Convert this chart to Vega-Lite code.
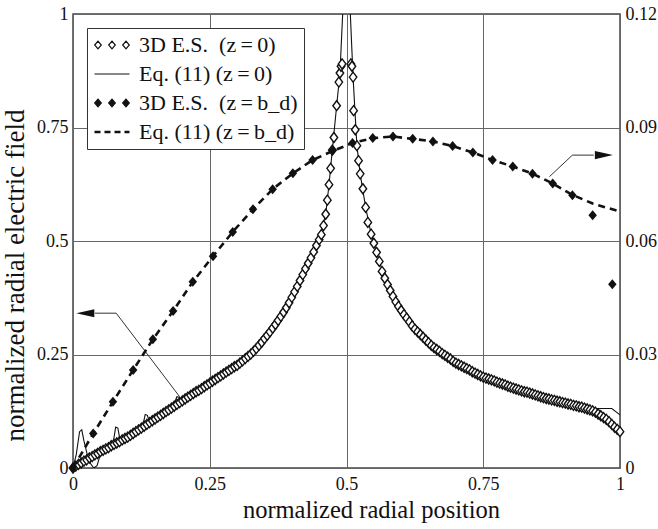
{
  "$schema": "https://vega.github.io/schema/vega-lite/v6.json",
  "width": 547,
  "height": 454,
  "autosize": {"type": "none"},
  "padding": {"left": 73, "top": 14, "right": 38, "bottom": 61},
  "background": "white",
  "datasets": {
    "es_z0": [
      {"x":0,"y":0},{"x":0.005,"y":0.004},{"x":0.01,"y":0.008},{"x":0.015,"y":0.011},{"x":0.02,"y":0.015},
      {"x":0.025,"y":0.018},{"x":0.03,"y":0.022},{"x":0.035,"y":0.025},{"x":0.04,"y":0.029},{"x":0.045,"y":0.032},
      {"x":0.05,"y":0.036},{"x":0.055,"y":0.039},{"x":0.06,"y":0.042},{"x":0.065,"y":0.045},{"x":0.07,"y":0.049},
      {"x":0.075,"y":0.052},{"x":0.08,"y":0.055},{"x":0.085,"y":0.058},{"x":0.09,"y":0.062},{"x":0.095,"y":0.065},
      {"x":0.1,"y":0.068},{"x":0.105,"y":0.072},{"x":0.11,"y":0.076},{"x":0.115,"y":0.08},{"x":0.12,"y":0.084},
      {"x":0.125,"y":0.088},{"x":0.13,"y":0.092},{"x":0.135,"y":0.096},{"x":0.14,"y":0.1},{"x":0.145,"y":0.104},
      {"x":0.15,"y":0.108},{"x":0.155,"y":0.112},{"x":0.16,"y":0.116},{"x":0.165,"y":0.12},{"x":0.17,"y":0.124},
      {"x":0.175,"y":0.128},{"x":0.18,"y":0.132},{"x":0.185,"y":0.136},{"x":0.19,"y":0.14},{"x":0.195,"y":0.144},
      {"x":0.2,"y":0.148},{"x":0.205,"y":0.152},{"x":0.21,"y":0.156},{"x":0.215,"y":0.16},{"x":0.22,"y":0.164},
      {"x":0.225,"y":0.168},{"x":0.23,"y":0.171},{"x":0.235,"y":0.175},{"x":0.24,"y":0.179},{"x":0.245,"y":0.183},
      {"x":0.25,"y":0.187},{"x":0.255,"y":0.191},{"x":0.26,"y":0.195},{"x":0.265,"y":0.199},{"x":0.27,"y":0.203},
      {"x":0.275,"y":0.207},{"x":0.28,"y":0.211},{"x":0.285,"y":0.215},{"x":0.29,"y":0.219},{"x":0.295,"y":0.223},
      {"x":0.3,"y":0.226},{"x":0.305,"y":0.231},{"x":0.31,"y":0.236},{"x":0.315,"y":0.241},{"x":0.32,"y":0.246},
      {"x":0.325,"y":0.251},{"x":0.33,"y":0.257},{"x":0.335,"y":0.263},{"x":0.34,"y":0.27},{"x":0.345,"y":0.277},
      {"x":0.35,"y":0.285},{"x":0.355,"y":0.292},{"x":0.36,"y":0.3},{"x":0.365,"y":0.308},{"x":0.37,"y":0.316},
      {"x":0.375,"y":0.325},{"x":0.38,"y":0.334},{"x":0.385,"y":0.343},{"x":0.39,"y":0.353},{"x":0.395,"y":0.364},
      {"x":0.4,"y":0.376},{"x":0.405,"y":0.388},{"x":0.41,"y":0.4},{"x":0.415,"y":0.413},{"x":0.42,"y":0.426},
      {"x":0.425,"y":0.439},{"x":0.43,"y":0.451},{"x":0.435,"y":0.463},{"x":0.44,"y":0.476},{"x":0.445,"y":0.49},
      {"x":0.45,"y":0.503},{"x":0.454,"y":0.514},{"x":0.458,"y":0.534},{"x":0.462,"y":0.559},{"x":0.465,"y":0.59},
      {"x":0.468,"y":0.624},{"x":0.471,"y":0.66},{"x":0.474,"y":0.7},{"x":0.477,"y":0.728},{"x":0.482,"y":0.798},
      {"x":0.486,"y":0.85},{"x":0.488,"y":0.87},{"x":0.49,"y":0.885},{"x":0.492,"y":0.89},
      {"x":0.508,"y":0.89},{"x":0.51,"y":0.885},{"x":0.512,"y":0.861},{"x":0.513,"y":0.787},{"x":0.516,"y":0.745},
      {"x":0.519,"y":0.71},{"x":0.522,"y":0.677},{"x":0.525,"y":0.648},{"x":0.53,"y":0.615},{"x":0.535,"y":0.574},
      {"x":0.539,"y":0.541},{"x":0.545,"y":0.515},{"x":0.55,"y":0.495},{"x":0.555,"y":0.475},{"x":0.56,"y":0.455},
      {"x":0.565,"y":0.433},{"x":0.57,"y":0.418},{"x":0.575,"y":0.404},{"x":0.58,"y":0.391},{"x":0.585,"y":0.378},
      {"x":0.59,"y":0.366},{"x":0.595,"y":0.356},{"x":0.6,"y":0.347},{"x":0.605,"y":0.338},{"x":0.61,"y":0.33},
      {"x":0.615,"y":0.322},{"x":0.62,"y":0.313},{"x":0.625,"y":0.306},{"x":0.63,"y":0.3},{"x":0.635,"y":0.294},
      {"x":0.64,"y":0.288},{"x":0.645,"y":0.282},{"x":0.65,"y":0.276},{"x":0.655,"y":0.27},{"x":0.66,"y":0.265},
      {"x":0.665,"y":0.261},{"x":0.67,"y":0.257},{"x":0.675,"y":0.252},{"x":0.68,"y":0.248},{"x":0.685,"y":0.244},
      {"x":0.69,"y":0.24},{"x":0.695,"y":0.235},{"x":0.7,"y":0.231},{"x":0.705,"y":0.228},{"x":0.71,"y":0.225},
      {"x":0.715,"y":0.222},{"x":0.72,"y":0.219},{"x":0.725,"y":0.216},{"x":0.73,"y":0.212},{"x":0.735,"y":0.209},
      {"x":0.74,"y":0.206},{"x":0.745,"y":0.203},{"x":0.75,"y":0.2},{"x":0.755,"y":0.198},{"x":0.76,"y":0.196},
      {"x":0.765,"y":0.194},{"x":0.77,"y":0.192},{"x":0.775,"y":0.189},{"x":0.78,"y":0.187},{"x":0.785,"y":0.185},
      {"x":0.79,"y":0.183},{"x":0.795,"y":0.18},{"x":0.8,"y":0.178},{"x":0.805,"y":0.176},{"x":0.81,"y":0.174},
      {"x":0.815,"y":0.172},{"x":0.82,"y":0.17},{"x":0.825,"y":0.168},{"x":0.83,"y":0.167},{"x":0.835,"y":0.165},
      {"x":0.84,"y":0.163},{"x":0.845,"y":0.161},{"x":0.85,"y":0.159},{"x":0.855,"y":0.157},{"x":0.86,"y":0.155},
      {"x":0.865,"y":0.153},{"x":0.87,"y":0.152},{"x":0.875,"y":0.15},{"x":0.88,"y":0.149},{"x":0.885,"y":0.147},
      {"x":0.89,"y":0.146},{"x":0.895,"y":0.144},{"x":0.9,"y":0.143},{"x":0.905,"y":0.141},{"x":0.91,"y":0.14},
      {"x":0.915,"y":0.138},{"x":0.92,"y":0.137},{"x":0.925,"y":0.135},{"x":0.93,"y":0.134},{"x":0.935,"y":0.132},
      {"x":0.94,"y":0.13},{"x":0.945,"y":0.128},{"x":0.95,"y":0.126},{"x":0.955,"y":0.123},{"x":0.96,"y":0.119},
      {"x":0.965,"y":0.115},{"x":0.97,"y":0.111},{"x":0.975,"y":0.107},{"x":0.98,"y":0.102},{"x":0.985,"y":0.096},
      {"x":0.99,"y":0.09},{"x":0.995,"y":0.085},{"x":1,"y":0.08}
    ],
    "eq_z0": [
      {"x":0,"y":0},{"x":0.006,"y":0.03},{"x":0.012,"y":0.08},{"x":0.016,"y":0.084},{"x":0.02,"y":0.06},
      {"x":0.026,"y":0.03},{"x":0.032,"y":0.01},{"x":0.038,"y":0},{"x":0.044,"y":0.005},{"x":0.05,"y":0.03},
      {"x":0.056,"y":0.04},{"x":0.07,"y":0.049},{"x":0.074,"y":0.06},{"x":0.078,"y":0.09},{"x":0.082,"y":0.088},
      {"x":0.086,"y":0.062},{"x":0.092,"y":0.063},{"x":0.12,"y":0.084},{"x":0.128,"y":0.095},{"x":0.132,"y":0.118},
      {"x":0.136,"y":0.116},{"x":0.14,"y":0.1},{"x":0.18,"y":0.132},{"x":0.186,"y":0.145},{"x":0.19,"y":0.157},
      {"x":0.194,"y":0.156},{"x":0.198,"y":0.147},{"x":0.25,"y":0.187},{"x":0.3,"y":0.226},{"x":0.35,"y":0.285},
      {"x":0.4,"y":0.376},{"x":0.43,"y":0.451},{"x":0.45,"y":0.503},{"x":0.462,"y":0.559},{"x":0.468,"y":0.624},
      {"x":0.474,"y":0.7},{"x":0.482,"y":0.798},{"x":0.488,"y":0.87},{"x":0.493,"y":1.0},{"x":0.497,"y":1.6},
      {"x":0.503,"y":1.6},{"x":0.507,"y":1.0},{"x":0.512,"y":0.861},{"x":0.519,"y":0.71},{"x":0.525,"y":0.648},
      {"x":0.535,"y":0.574},{"x":0.545,"y":0.515},{"x":0.55,"y":0.495},{"x":0.56,"y":0.455},{"x":0.57,"y":0.418},
      {"x":0.58,"y":0.391},{"x":0.6,"y":0.347},{"x":0.62,"y":0.313},{"x":0.65,"y":0.276},{"x":0.7,"y":0.231},
      {"x":0.75,"y":0.2},{"x":0.8,"y":0.178},{"x":0.85,"y":0.159},{"x":0.9,"y":0.143},{"x":0.93,"y":0.134},
      {"x":0.955,"y":0.131},{"x":0.985,"y":0.131},{"x":1,"y":0.117}
    ],
    "es_bd": [
      {"x":0,"y":0},{"x":0.037,"y":0.0091},{"x":0.073,"y":0.0175},{"x":0.11,"y":0.0259},{"x":0.146,"y":0.034},
      {"x":0.183,"y":0.0415},{"x":0.219,"y":0.0492},{"x":0.256,"y":0.056},{"x":0.292,"y":0.0624},{"x":0.329,"y":0.0684},
      {"x":0.365,"y":0.0737},{"x":0.402,"y":0.0779},{"x":0.438,"y":0.0814},{"x":0.475,"y":0.084},{"x":0.511,"y":0.0859},
      {"x":0.548,"y":0.0872},{"x":0.585,"y":0.0876},{"x":0.621,"y":0.087},{"x":0.658,"y":0.0863},{"x":0.694,"y":0.0851},
      {"x":0.731,"y":0.0834},{"x":0.767,"y":0.0814},{"x":0.804,"y":0.0797},{"x":0.84,"y":0.0778},{"x":0.877,"y":0.0752},
      {"x":0.913,"y":0.0721},{"x":0.95,"y":0.0668},{"x":0.986,"y":0.0486}
    ],
    "eq_bd": [
      {"x":0,"y":0},{"x":0.037,"y":0.0091},{"x":0.073,"y":0.0175},{"x":0.11,"y":0.0259},{"x":0.146,"y":0.034},
      {"x":0.183,"y":0.0415},{"x":0.219,"y":0.0492},{"x":0.256,"y":0.056},{"x":0.292,"y":0.0624},{"x":0.329,"y":0.0684},
      {"x":0.365,"y":0.0737},{"x":0.402,"y":0.0779},{"x":0.438,"y":0.0814},{"x":0.475,"y":0.0838},{"x":0.511,"y":0.0859},
      {"x":0.548,"y":0.0872},{"x":0.585,"y":0.0876},{"x":0.621,"y":0.087},{"x":0.658,"y":0.0863},{"x":0.694,"y":0.0851},
      {"x":0.731,"y":0.0834},{"x":0.767,"y":0.0814},{"x":0.804,"y":0.0797},{"x":0.84,"y":0.0778},{"x":0.877,"y":0.0752},
      {"x":0.913,"y":0.0722},{"x":0.95,"y":0.0699},{"x":1,"y":0.0678}
    ],
    "pointer_left": [{"x":0.04,"y":0.341},{"x":0.079,"y":0.341},{"x":0.195,"y":0.157}],
    "pointer_left_tip": [{"x":0.006,"y":0.341}],
    "pointer_right": [{"x":0.871,"y":0.077},{"x":0.913,"y":0.0827},{"x":0.952,"y":0.0827}],
    "pointer_right_tip": [{"x":0.987,"y":0.0827}]
  },
  "encoding": {
    "x": {
      "field": "x",
      "type": "quantitative",
      "scale": {"domain": [0, 1], "nice": false, "zero": false},
      "axis": {
        "values": [0, 0.25, 0.5, 0.75, 1],
        "labelExpr": "format(datum.value, '.2~f')",
        "title": "normalized radial position",
        "labelFontSize": 18,
        "titleFontSize": 24.5,
        "labelPadding": 7,
        "titlePadding": 5,
        "titleX": 298,
        "labelFlush": false,
        "grid": true
      }
    }
  },
  "layer": [
    {
      "encoding": {
        "y": {
          "field": "y",
          "type": "quantitative",
          "scale": {"domain": [0, 1], "nice": false},
          "axis": {
            "values": [0, 0.25, 0.5, 0.75, 1],
            "labelExpr": "format(datum.value, '.2~f')",
            "title": "normalized radial electric field",
            "labelFontSize": 18,
            "titleFontSize": 27,
            "labelPadding": 5,
            "titlePadding": 7,
            "titleY": 261,
            "grid": true
          }
        }
      },
      "layer": [
        {
          "data": {"name": "eq_z0"},
          "mark": {"type": "line", "strokeWidth": 1.1, "clip": true, "interpolate": "linear"},
          "encoding": {
            "color": {
              "datum": "Eq. (11) (z\u2009=\u20090)",
              "scale": {
                "domain": ["3D E.S.\u00a0\u00a0(z\u2009=\u20090)", "Eq. (11) (z\u2009=\u20090)", "3D E.S.\u00a0\u00a0(z\u2009=\u2009b_d)", "Eq. (11) (z\u2009=\u2009b_d)"],
                "range": ["#111", "#111", "#111", "#111"]
              },
              "legend": {
                "title": null,
                "orient": "top-left",
                "offset": 14,
                "padding": 6,
                "fillColor": "white",
                "strokeColor": "#333",
                "labelFont": "Liberation Serif",
                "labelFontSize": 22,
                "labelColor": "#111",
                "labelLimit": 0,
                "labelOffset": 24,
                "symbolSize": 400,
                "rowPadding": 7,
                "encode": {
                  "symbols": {
                    "update": {
                      "shape": {"signal": "datum.index === 0 || datum.index === 2 ? 'M-0.93,0L-0.6,-0.38L-0.27,0L-0.6,0.38ZM0.47,0L0.8,-0.38L1.13,0L0.8,0.38ZM1.87,0L2.2,-0.38L2.53,0L2.2,0.38Z' : 'M-0.95,0L2.55,0'"},
                      "fill": {"signal": "datum.index === 2 ? '#111' : datum.index === 0 ? '#fff' : 'transparent'"},
                      "stroke": {"value": "#111"},
                      "strokeWidth": {"signal": "datum.index === 3 ? 2.6 : 1.2"},
                      "strokeDash": {"signal": "datum.index === 3 ? [6, 4] : []"},
                      "opacity": {"value": 1}
                    }
                  }
                }
              }
            }
          }
        },
        {
          "data": {"name": "es_z0"},
          "mark": {"type": "point", "shape": "M-0.75,0L0,-1L0.75,0L0,1Z", "size": 100, "filled": false, "fill": "white", "fillOpacity": 1, "stroke": "#111", "strokeWidth": 1.4, "opacity": 1}
        },
        {
          "data": {"name": "pointer_left"},
          "mark": {"type": "line", "color": "#333", "strokeWidth": 1}
        },
        {
          "data": {"name": "pointer_left_tip"},
          "mark": {"type": "point", "shape": "M0,0L2,-0.45L2,0.45Z", "size": 324, "filled": true, "color": "#111", "opacity": 1}
        }
      ]
    },
    {
      "encoding": {
        "y": {
          "field": "y",
          "type": "quantitative",
          "scale": {"domain": [0, 0.12], "nice": false},
          "axis": {
            "orient": "right",
            "values": [0, 0.03, 0.06, 0.09, 0.12],
            "labelExpr": "format(datum.value, '.2~f')",
            "title": null,
            "labelFontSize": 18,
            "labelPadding": 5,
            "grid": false
          }
        }
      },
      "layer": [
        {
          "data": {"name": "eq_bd"},
          "mark": {"type": "line", "color": "#111", "strokeWidth": 2.6, "strokeDash": [7, 5], "clip": true}
        },
        {
          "data": {"name": "es_bd"},
          "mark": {"type": "point", "shape": "M-0.85,0L0,-1L0.85,0L0,1Z", "size": 100, "filled": true, "color": "#111", "opacity": 1}
        },
        {
          "data": {"name": "pointer_right"},
          "mark": {"type": "line", "color": "#333", "strokeWidth": 1}
        },
        {
          "data": {"name": "pointer_right_tip"},
          "mark": {"type": "point", "shape": "M0,0L-2,-0.45L-2,0.45Z", "size": 324, "filled": true, "color": "#111", "opacity": 1}
        }
      ]
    }
  ],
  "resolve": {"scale": {"y": "independent"}, "axis": {"y": "independent"}},
  "config": {
    "view": {"stroke": "#444", "strokeWidth": 1.5},
    "font": "Liberation Serif",
    "axis": {
      "labelFont": "Liberation Serif",
      "titleFont": "Liberation Serif",
      "labelColor": "#111",
      "titleColor": "#111",
      "titleFontWeight": "normal",
      "domain": false,
      "ticks": false,
      "gridColor": "#666",
      "gridWidth": 1,
      "gridOpacity": 1
    }
  }
}
